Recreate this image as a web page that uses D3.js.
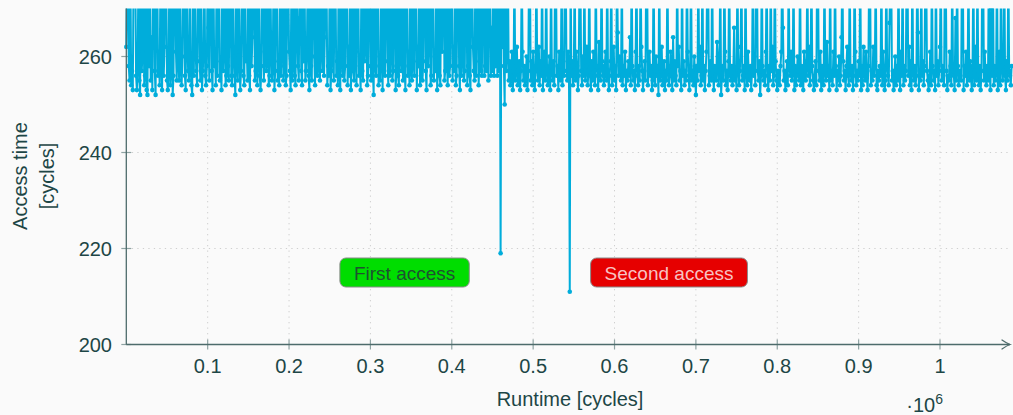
<!DOCTYPE html>
<html>
<head>
<meta charset="utf-8">
<script src="https://cdn.jsdelivr.net/npm/d3@7"></script>
<style>
  body { margin: 0; background: #fafafa; }
  svg { display: block; font-family: "Liberation Sans", Arial, sans-serif; }
</style>
</head>
<body>
<svg id="chart" width="1013" height="415"></svg>
<script>
// one measurement every sampleStep cycles
var sampleStep = 1000;

// access times before the first access (values above 270 leave the plot)
var phaseBefore = [
  262,280,280,258,255,280,254,257,253,280,280,280,256,253,259,280,255,252,280,257,
  261,280,254,256,280,253,252,280,258,280,255,264,253,280,280,257,252,280,280,256,
  261,254,280,259,253,280,256,262,280,280,255,253,258,280,254,257,280,252,256,280,
  280,261,255,280,259,255,280,258,254,260,280,280,256,253,280,263,257,255,280,258,
  254,252,280,256,280,262,257,254,280,280,259,255,280,253,257,261,280,256,254,258,
  280,266,255,280,280,257,253,280,258,261,254,280,256,280,280,255,259,253,280,257,
  262,280,254,256,280,258,255,280,280,256,254,280,260,256,252,280,258,255,280,261,
  253,257,280,280,256,254,280,259,262,255,280,256,253,280,258,264,280,280,255,257,
  280,254,260,280,256,253,258,280,280,255,261,280,257,259,280,254,256,280,262,255,
  258,280,253,257,280,280,255,259,254,280,256,263,280,255,258,280,254,256,280,280,
  261,257,253,280,255,259,280,256,254,280,268,258,255,280,280,257,254,280,259,280,
  255,257,262,280,256,253,280,258,255,280,280,260,254,280,257,256,280,259,255,280,
  262,257,280,256,264,280,280,254,258,256,280,253,257,280,261,255,280,280,256,259,
  254,280,257,253,280,260,256,280,255,258,280,280,254,262,256,280,253,259,280,257,
  255,280,261,254,280,280,256,258,253,280,257,255,280,259,263,280,254,256,280,280,
  258,255,280,257,252,280,260,256,280,280,254,258,255,280,261,253,280,257,256,280,
  280,259,254,280,256,262,280,255,257,280,280,253,258,280,256,254,280,260,257,280,
  255,280,258,253,280,280,256,261,254,280,257,255,280,259,256,280,280,253,262,258,
  280,254,256,280,255,259,280,280,257,253,280,258,265,280,254,256,280,280,255,260,
  257,280,253,258,280,256,254,280,261,280,280,255,257,280,259,254,280,256,258,280,
  280,255,262,257,280,254,256,280,280,258,253,280,256,260,280,255,257,280,280,254,
  258,280,256,253,280,280,262,257,255,280,256,280,280,254,259,280,257,256,280,280,
  256,258,280,257,280,255,280,280,256,266,257,280,256,280,258,280,256,280,257,280
];
var firstAccess = 219;

// access times between the two accesses
var phaseBetween = [
  280,262,280,258,250,280,257,261,280,255,259,254,256,261,253,257,280,255,258,262,
  254,256,259,253,257,280,261,255,258,254,256,260,253,257,280,280,255,259,254,261,
  256,253,258,280,257,255,262,254,259,256,280,253,257,261,255,280,258,254,256,260,
  253,280,257,255,259,254,280,280,256,258,253,261,257,255,280,254,259,256,280,280,
  257,255,261,258
];
var secondAccess = 211;

// access times after the second access
var phaseAfter = [
  280,256,259,254,257,280,255,261,258,253,256,280,280,257,254,260,256,280,255,258,
  262,254,257,280,256,253,259,255,261,257,254,280,258,256,253,263,257,255,280,259,
  256,254,258,261,255,280,257,253,256,259,280,254,257,262,255,258,253,280,265,256,
  260,257,255,280,254,258,256,261,253,257,255,259,256,264,254,280,258,255,257,253,
  261,280,256,254,258,255,280,262,257,253,256,259,255,280,280,254,257,261,256,258,
  253,255,280,257,254,260,256,258,252,280,255,257,262,254,256,259,253,257,255,280,
  258,254,256,261,257,253,264,255,259,256,254,280,258,262,255,257,253,280,256,259,
  254,257,255,280,261,256,253,258,280,255,257,254,260,256,252,258,255,280,257,262,
  254,256,280,255,258,253,257,261,280,280,254,256,259,255,280,257,253,258,256,255,
  263,260,254,257,280,252,256,258,255,280,261,254,257,253,259,280,256,255,258,254,
  257,266,255,256,253,280,259,254,257,262,280,255,256,258,253,280,257,254,261,256,
  255,258,253,257,280,256,260,254,280,280,257,255,259,252,256,280,258,255,257,254,
  261,280,256,253,258,255,280,257,262,254,256,280,259,255,253,257,256,254,258,261,
  280,266,255,257,253,256,259,254,280,258,256,261,255,257,280,253,258,254,256,260,
  257,255,280,254,258,256,253,261,257,255,259,280,256,262,254,257,280,258,255,253,
  256,259,254,280,280,257,255,261,253,258,256,254,280,257,255,263,256,258,253,280,
  255,257,254,261,256,280,258,253,257,255,260,254,256,264,280,259,255,257,253,258,
  262,256,254,280,257,255,258,253,256,280,261,254,257,255,259,256,280,253,258,254,
  262,257,255,261,256,253,258,280,280,254,257,255,262,256,259,280,254,253,257,255,
  258,256,280,254,261,257,253,255,280,258,256,254,267,280,280,255,257,253,256,260,
  254,258,255,280,257,253,261,256,280,254,258,255,257,280,280,256,262,254,259,253,
  280,257,255,258,254,256,280,265,253,257,255,280,256,259,254,258,280,280,257,255,
  253,256,261,254,280,258,255,257,253,280,256,259,254,257,262,280,255,258,256,254,
  280,280,257,253,256,255,261,258,254,280,257,256,253,268,255,280,258,254,257,256,
  255,280,280,253,258,256,261,254,257,280,255,259,256,253,258,280,254,257,262,255,
  280,256,254,258,253,257,280,280,255,261,256,254,258,255,280,257,253,270,256,280,
  254,258,255,257,280,253,256,261,254,280,258,255,257,280,256,253,259,255,280,257,
  256,254,258
];

var xTicks = [100000, 200000, 300000, 400000, 500000, 600000, 700000, 800000, 900000, 1000000];
var yTicks = [200, 220, 240, 260];

// annotation boxes, anchored in data units
var noteText = ["First access", "Second access"];
var noteRuntime = [342000, 667000];
var noteTime = [215, 215];

var textColor = "#1d4646";
var axisColor = "#4d6b6b";
var lineColor = "#00addb";
var noteFill = ["#00dd00", "#e60000"];
var noteInk = ["#1d5230", "#f8c2c2"];

var svg = d3.select("#chart");

var x = d3.scaleLinear().domain([0, 1000000]).range([126.3, 940]);
var y = d3.scaleLinear().domain([200, 270]).range([344.5, 8.5]);
var xEnd = 1010;

var accessTime = phaseBefore.concat([firstAccess], phaseBetween, [secondAccess], phaseAfter);
var points = accessTime.map(function(v, i) { return [i * sampleStep, v]; });

// grid
svg.append("g").selectAll("line")
   .data(xTicks)
   .enter()
   .append("line")
   .attr("x1", function(d) { return x(d); })
   .attr("x2", function(d) { return x(d); })
   .attr("y1", y(270))
   .attr("y2", y(200))
   .style("stroke", "#cfcfcf")
   .style("stroke-dasharray", "1.3,4.2");

svg.append("g").selectAll("line")
   .data(yTicks.slice(1))
   .enter()
   .append("line")
   .attr("x1", x(0))
   .attr("x2", xEnd)
   .attr("y1", function(d) { return y(d); })
   .attr("y2", function(d) { return y(d); })
   .style("stroke", "#cfcfcf")
   .style("stroke-dasharray", "1.3,4.2");

// ticks crossing the axes
svg.append("g").selectAll("line")
   .data(xTicks)
   .enter()
   .append("line")
   .attr("x1", function(d) { return x(d); })
   .attr("x2", function(d) { return x(d); })
   .attr("y1", y(200) - 5)
   .attr("y2", y(200) + 5)
   .style("stroke", "#8fa3a3")
   .style("stroke-width", 1.2);

svg.append("g").selectAll("line")
   .data(yTicks)
   .enter()
   .append("line")
   .attr("x1", x(0) - 5)
   .attr("x2", x(0) + 5)
   .attr("y1", function(d) { return y(d); })
   .attr("y2", function(d) { return y(d); })
   .style("stroke", "#8fa3a3")
   .style("stroke-width", 1.2);

// tick labels
var fmt = d3.format("~g");
svg.append("g").selectAll("text")
   .data(xTicks)
   .enter()
   .append("text")
   .attr("x", function(d) { return x(d); })
   .attr("y", 373)
   .attr("text-anchor", "middle")
   .style("font-size", "20px")
   .style("fill", textColor)
   .text(function(d) { return fmt(d / 1e6); });

svg.append("g").selectAll("text")
   .data(yTicks)
   .enter()
   .append("text")
   .attr("x", 112)
   .attr("y", function(d) { return y(d) + 7; })
   .attr("text-anchor", "end")
   .style("font-size", "20px")
   .style("fill", textColor)
   .text(function(d) { return d; });

// data, clipped to the plot area
svg.append("clipPath").attr("id", "plotclip")
   .append("rect")
   .attr("x", 120).attr("y", y(270))
   .attr("width", 900).attr("height", y(200) - y(270));

var plot = svg.append("g").attr("clip-path", "url(#plotclip)");

var line = d3.line()
   .x(function(d) { return x(d[0]); })
   .y(function(d) { return y(d[1]); });

plot.append("path")
   .datum(points)
   .attr("d", line)
   .style("fill", "none")
   .style("stroke", lineColor)
   .style("stroke-width", 2)
   .style("stroke-linejoin", "round");

plot.selectAll("circle")
   .data(points)
   .enter()
   .append("circle")
   .attr("cx", function(d) { return x(d[0]); })
   .attr("cy", function(d) { return y(d[1]); })
   .attr("r", 2.3)
   .style("fill", lineColor);

// axes with arrow heads
function arrow(px, py, angle) {
    svg.append("path")
       .attr("d", "M-8,-4.5 Q-3,-1 0,0 Q-3,1 -8,4.5")
       .attr("transform", "translate(" + px + "," + py + ") rotate(" + angle + ")")
       .style("fill", "none")
       .style("stroke", axisColor)
       .style("stroke-width", 1.3)
       .style("stroke-linecap", "round");
}

svg.append("line")
   .attr("x1", x(0)).attr("x2", xEnd)
   .attr("y1", y(200)).attr("y2", y(200))
   .style("stroke", axisColor).style("stroke-width", 1.3);
arrow(xEnd, y(200), 0);

svg.append("line")
   .attr("x1", x(0)).attr("x2", x(0))
   .attr("y1", y(200)).attr("y2", y(270))
   .style("stroke", axisColor).style("stroke-width", 1.3);

// annotations
noteText.forEach(function(t, i) {
    var g = svg.append("g")
       .attr("transform", "translate(" + x(noteRuntime[i]) + "," + y(noteTime[i]) + ")");
    var rect = g.append("rect");
    var label = g.append("text")
       .attr("text-anchor", "middle")
       .attr("y", 7)
       .style("font-size", "19px")
       .style("fill", noteInk[i])
       .text(t);
    var w = label.node().getComputedTextLength() + 28;
    rect.attr("x", -w / 2).attr("y", -14.5)
        .attr("width", w).attr("height", 29)
        .attr("rx", 6)
        .style("fill", noteFill[i])
        .style("stroke", "#8a8a8a")
        .style("stroke-width", 1);
});

// axis titles
svg.append("text")
   .attr("x", 570).attr("y", 406)
   .attr("text-anchor", "middle")
   .style("font-size", "20px")
   .style("fill", textColor)
   .text("Runtime [cycles]");

var yTitle = svg.append("text")
   .attr("transform", "translate(0,176) rotate(-90)")
   .attr("text-anchor", "middle")
   .style("font-size", "20px")
   .style("fill", textColor);
yTitle.append("tspan").attr("x", 0).attr("y", 27).text("Access time");
yTitle.append("tspan").attr("x", 0).attr("y", 54).text("[cycles]");

var scaleNote = svg.append("text")
   .attr("x", 943).attr("y", 412)
   .attr("text-anchor", "end")
   .style("font-size", "20px")
   .style("fill", textColor);
scaleNote.append("tspan").text("\u00b710");
scaleNote.append("tspan").attr("dy", -8).style("font-size", "14px").text("6");
</script>
</body>
</html>
